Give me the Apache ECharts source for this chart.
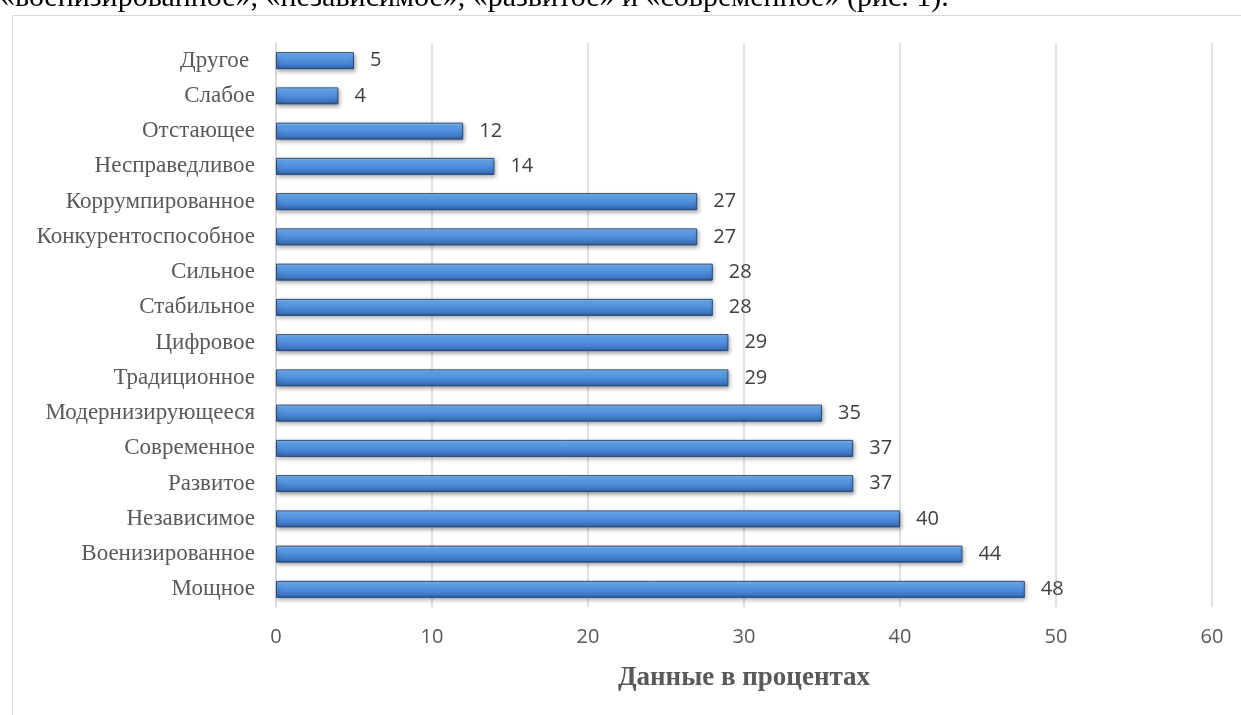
<!DOCTYPE html>
<html>
<head>
<meta charset="utf-8">
<script src="https://cdn.jsdelivr.net/npm/echarts@6/dist/echarts.min.js"></script>
<style>
html,body{margin:0;padding:0;background:#fff;}
#chart{width:1241px;height:715px;}
</style>
</head>
<body>
<div id="chart"></div>
<script>
var categories = ['Другое ', 'Слабое', 'Отстающее', 'Несправедливое', 'Коррумпированное', 'Конкурентоспособное', 'Сильное', 'Стабильное', 'Цифровое', 'Традиционное', 'Модернизирующееся', 'Современное', 'Развитое', 'Независимое', 'Военизированное', 'Мощное'];
var values = [5, 4, 12, 14, 27, 27, 28, 28, 29, 29, 35, 37, 37, 40, 44, 48];
var axisTitle = 'Данные в процентах';
var topLine = '«военизированное», «независимое», «развитое» и «современное» (рис. 1).';

var chart = echarts.init(document.getElementById('chart'), null, {renderer: 'canvas'});
var barGradient = new echarts.graphic.LinearGradient(0, 0, 0, 1, [
  {offset: 0, color: '#9fcdf9'},
  {offset: 0.15, color: '#66a8ee'},
  {offset: 0.45, color: '#5192e0'},
  {offset: 0.8, color: '#3f78c4'},
  {offset: 1, color: '#2d5a98'}
]);
chart.setOption({
  backgroundColor: '#ffffff',
  animation: false,
  graphic: [
    {type: 'rect', left: 10, top: 13, shape: {x: 0, y: 0, width: 1260, height: 720}, style: {fill: 'none', stroke: '#d9d9d9', lineWidth: 1}, silent: true},
    {type: 'text', x: 0, y: 13, style: {text: topLine, font: '30px "Liberation Serif", "Times New Roman", serif', fill: '#000000', verticalAlign: 'bottom', align: 'left'}, silent: true}
  ],
  grid: {left: 276, right: 29, top: 43, bottom: 108, containLabel: false},
  xAxis: {
    type: 'value', min: 0, max: 60, interval: 10,
    axisLine: {show: false}, axisTick: {show: false},
    splitLine: {show: true, lineStyle: {color: '#d9d9d9', width: 1.5}},
    axisLabel: {margin: 20, color: '#595959', fontFamily: '"Open Sans", sans-serif', fontSize: 20},
    name: axisTitle, nameLocation: 'middle', nameGap: 58,
    nameTextStyle: {color: '#595959', fontFamily: '"Liberation Serif", serif', fontWeight: 'bold', fontSize: 27}
  },
  yAxis: {
    type: 'category', data: categories, inverse: true,
    axisLine: {show: true, lineStyle: {color: '#d9d9d9', width: 1.5}},
    axisTick: {show: false},
    axisLabel: {margin: 21, color: '#595959', fontFamily: '"Liberation Serif", serif', fontSize: 23}
  },
  series: [{
    type: 'bar', data: values, barWidth: 17,
    itemStyle: {color: barGradient, borderColor: '#2a4a78', borderWidth: 1, shadowBlur: 4, shadowColor: 'rgba(0,0,0,0.35)', shadowOffsetY: 2, shadowOffsetX: 1},
    label: {show: true, position: 'right', distance: 16, color: '#404040', fontFamily: '"Open Sans", sans-serif', fontSize: 20}
  }]
});
</script>
</body>
</html>
